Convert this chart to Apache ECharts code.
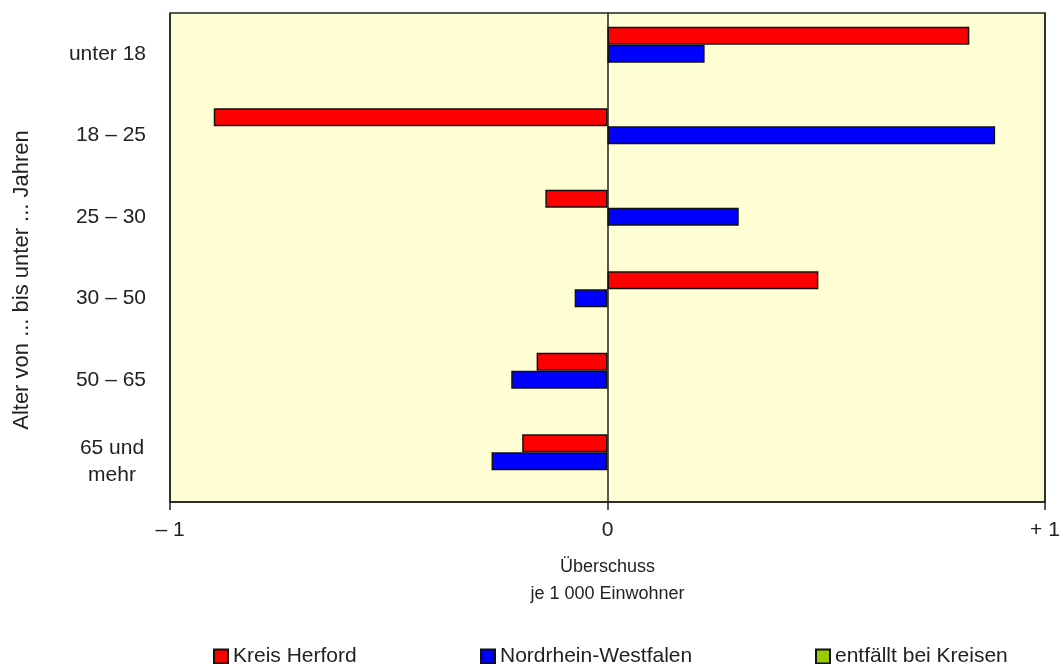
<!DOCTYPE html>
<html>
<head>
<meta charset="utf-8">
<script src="https://cdn.jsdelivr.net/npm/echarts@6/dist/echarts.min.js"></script>
<style>
html,body{margin:0;padding:0;background:#fff;}
#chart{width:1063px;height:664px;}
</style>
</head>
<body>
<div id="chart"></div>
<script>
const categories = ['unter 18', '18 – 25', '25 – 30', '30 – 50', '50 – 65', '65 und\nmehr'];
const kreisHerford = [0.827, -0.900, -0.142, 0.482, -0.162, -0.195];
const nrw = [0.222, 0.886, 0.300, -0.075, -0.220, -0.265];
const entfaellt = [];
const seriesNames = ['Kreis Herford', 'Nordrhein-Westfalen', 'entfällt bei Kreisen'];
const xTickLabels = {'-1': '– 1', '0': '0', '1': '+ 1'};

const FONT = 'Liberation Sans, Arial, sans-serif';
const chart = echarts.init(document.getElementById('chart'), null, {renderer: 'canvas'});
const legendBase = {
  top: 646, padding: 0, itemWidth: 14, itemHeight: 14, itemGap: 0,
  textStyle: {fontFamily: FONT, fontSize: 21, color: '#222', padding: [0, 0, 0, 0]},
  selectedMode: false
};
chart.setOption({
  animation: false,
  grid: {left: 170, right: 18, top: 13, bottom: 162, show: true, backgroundColor: '#FFFDD3', borderColor: '#222', borderWidth: 1.5},
  legend: [
    Object.assign({}, legendBase, {left: 213, data: [{name: seriesNames[0], icon: 'rect'}]}),
    Object.assign({}, legendBase, {left: 480, data: [{name: seriesNames[1], icon: 'rect'}]}),
    Object.assign({}, legendBase, {left: 815, data: [{name: seriesNames[2], icon: 'rect'}]})
  ],
  xAxis: {
    type: 'value', min: -1, max: 1, interval: 1,
    axisLine: {show: true, onZero: false, lineStyle: {color: '#222', width: 1.5}},
    axisTick: {show: true, length: 8, lineStyle: {color: '#222', width: 1.5}},
    splitLine: {show: true, lineStyle: {color: '#222', width: 1.5}},
    axisLabel: {fontFamily: FONT, fontSize: 21, color: '#222', margin: 18,
      formatter: v => xTickLabels[String(v)] || ''},
    name: 'Überschuss\nje 1 000 Einwohner',
    nameLocation: 'middle', nameGap: 52,
    nameTextStyle: {fontFamily: FONT, fontSize: 18, color: '#222', lineHeight: 27}
  },
  yAxis: {
    type: 'category', data: categories, inverse: true,
    axisLine: {show: false}, axisTick: {show: false}, splitLine: {show: false},
    axisLabel: {fontFamily: FONT, fontSize: 21, color: '#222', margin: 24, lineHeight: 27,
      formatter: v => v.indexOf('\n') >= 0 ? v.split('\n').map(s => '{c|' + s + '}').join('\n') : v,
      rich: {c: {fontFamily: FONT, fontSize: 21, color: '#222', width: 68, align: 'center', lineHeight: 27}}}
  },
  graphic: [{
    type: 'text', x: 22, y: 280, rotation: Math.PI / 2,
    style: {text: 'Alter von ... bis unter ... Jahren', fontFamily: FONT, fontSize: 22, fill: '#222', align: 'center', verticalAlign: 'middle'}
  }],
  series: [
    {name: seriesNames[0], type: 'bar', data: kreisHerford, barWidth: 18, barGap: 0,
      itemStyle: {color: '#FF0000', borderColor: '#111', borderWidth: 1.5}},
    {name: seriesNames[1], type: 'bar', data: nrw, barWidth: 18, barGap: 0,
      itemStyle: {color: '#0000FF', borderColor: '#111', borderWidth: 1.5}},
    {name: seriesNames[2], type: 'bar', data: entfaellt, barWidth: 18, barGap: 0,
      itemStyle: {color: '#99CC00', borderColor: '#111', borderWidth: 1.5}}
  ]
});
</script>
</body>
</html>
